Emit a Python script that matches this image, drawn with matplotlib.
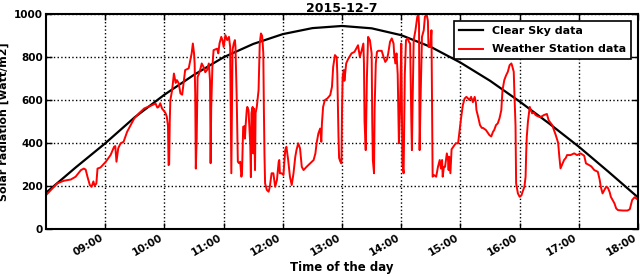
import datetime as dt
import matplotlib
matplotlib.use("Agg")
import matplotlib.pyplot as plt
import matplotlib.dates as mdates

title = "2015-12-7"
xlabel = "Time of the day"
ylabel = "Solar radiation [watt/m2]"
series_names = ["Clear Sky data", "Weather Station data"]

clear_hours = [8.0, 8.5, 9.0, 9.5, 10.0, 10.5, 11.0, 11.5, 12.0, 12.5, 13.0,
               13.5, 14.0, 14.5, 15.0, 15.5, 16.0, 16.5, 17.0, 17.5, 18.0]
clear_values = [167, 285, 398, 520, 625, 718, 800, 862, 908, 936, 946,
                935, 903, 848, 775, 690, 593, 490, 382, 265, 145]

station_hours = [
    8.00, 8.10, 8.19, 8.30, 8.42, 8.50, 8.59, 8.64, 8.67, 8.70, 8.74, 8.77, 8.80, 8.82, 8.85, 8.87, 8.92,
    9.01, 9.09, 9.15, 9.17, 9.19, 9.22, 9.26, 9.31, 9.37, 9.43, 9.49, 9.57, 9.66,
    9.79, 9.85, 9.88, 9.90, 9.93, 9.96, 9.99, 10.02, 10.04, 10.06, 10.07, 10.08, 10.09, 10.10,
    10.13, 10.16, 10.19, 10.21, 10.24, 10.27, 10.30, 10.33, 10.35, 10.41, 10.46, 10.48, 10.50,
    10.51, 10.52, 10.53, 10.545, 10.56, 10.58, 10.61, 10.63, 10.66, 10.69, 10.72, 10.75, 10.77,
    10.78, 10.79, 10.81, 10.83, 10.89, 10.91, 10.93, 10.96, 10.98, 11.00, 11.03, 11.06, 11.09,
    11.11, 11.13, 11.14, 11.15, 11.17, 11.19, 11.20, 11.22, 11.24, 11.26, 11.28, 11.30,
    11.31, 11.33, 11.35, 11.36, 11.37, 11.39, 11.40, 11.42, 11.45, 11.46, 11.47, 11.49, 11.50,
    11.51, 11.53, 11.54, 11.56, 11.59, 11.61, 11.63, 11.65, 11.66, 11.67, 11.68, 11.69, 11.70,
    11.73, 11.76, 11.78, 11.81, 11.84, 11.87, 11.90, 11.93, 11.94, 11.95, 11.98, 12.01, 12.04,
    12.06, 12.09, 12.12, 12.15, 12.18, 12.21, 12.23, 12.26, 12.29, 12.32, 12.35, 12.40, 12.46,
    12.52, 12.55, 12.57, 12.60, 12.63, 12.65, 12.66, 12.68, 12.71, 12.75, 12.80, 12.83, 12.85,
    12.88, 12.91, 12.92, 12.94, 12.95, 12.97, 12.99, 13.00, 13.01, 13.03, 13.04, 13.07, 13.10,
    13.16, 13.21, 13.24, 13.27, 13.30, 13.33, 13.36, 13.37, 13.38, 13.40, 13.42, 13.44, 13.47,
    13.50, 13.51, 13.52, 13.54, 13.55, 13.57, 13.59, 13.61, 13.67, 13.70, 13.73, 13.76, 13.78,
    13.81, 13.84, 13.87, 13.88, 13.90, 13.92, 13.94, 13.96, 13.98, 14.00, 14.02, 14.04, 14.06,
    14.08, 14.11, 14.13, 14.15, 14.17, 14.18, 14.19, 14.21, 14.24, 14.27, 14.29, 14.30, 14.31,
    14.33, 14.35, 14.38, 14.40, 14.43, 14.45, 14.46, 14.49, 14.51, 14.53, 14.55, 14.59, 14.61,
    14.62, 14.65, 14.67, 14.69, 14.70, 14.72, 14.74, 14.77, 14.79, 14.80, 14.81, 14.83, 14.85,
    14.88, 14.92, 14.96, 14.99, 15.01, 15.04, 15.07, 15.10, 15.13, 15.15, 15.18, 15.21, 15.24,
    15.26, 15.27, 15.30, 15.33, 15.36, 15.38, 15.43, 15.49, 15.52, 15.55, 15.57, 15.60, 15.63,
    15.66, 15.69, 15.71, 15.74, 15.77, 15.80, 15.83, 15.86, 15.87, 15.90, 15.91, 15.93, 15.935,
    15.94, 15.97, 16.00, 16.03, 16.05, 16.08, 16.10, 16.11, 16.12, 16.14, 16.16, 16.17, 16.19,
    16.21, 16.24, 16.27, 16.30, 16.35, 16.41, 16.46, 16.49, 16.55, 16.61, 16.65, 16.67, 16.69,
    16.72, 16.75, 16.78, 16.80, 16.86, 16.92, 16.97, 17.03, 17.09, 17.12, 17.15, 17.21, 17.26,
    17.32, 17.35, 17.37, 17.40, 17.43, 17.46, 17.49, 17.52, 17.54, 17.60, 17.63, 17.66, 17.74,
    17.82, 17.86, 17.90, 17.94, 17.97, 18.00]
station_values = [
    156, 185, 211, 223, 229, 242, 273, 280, 275, 242, 203, 195, 220, 200, 210, 280, 285,
    312, 343, 382, 385, 312, 375, 398, 405, 452, 483, 514, 538, 561,
    576, 584, 565, 567, 585, 560, 550, 538, 522, 480, 296, 300, 500, 600,
    646, 724, 680, 693, 680, 631, 625, 693, 740, 748, 818, 864, 818,
    771, 630, 280, 420, 708, 720, 748, 771, 755, 730, 740, 771, 690,
    305, 560, 755, 833, 840, 818, 864, 895, 880, 848, 903, 880, 895,
    848, 258, 560, 833, 864, 880, 848, 620, 312, 305, 312, 242,
    258, 475, 478, 420, 475, 553, 568, 553, 390, 240, 540, 568, 351,
    560, 273, 540, 568, 646, 864, 911, 900, 864, 818, 553, 343, 211,
    180, 172, 195, 258, 258, 195, 226, 312, 320, 258, 258, 250, 366,
    382, 320, 242, 203, 258, 335, 366, 398, 375, 288, 273, 288, 304,
    320, 351, 398, 444, 467, 405, 490, 568, 600, 607, 623, 662, 755,
    810, 800, 720, 428, 330, 313, 304, 560, 708, 740, 690, 771, 790,
    818, 825, 841, 856, 802, 830, 864, 771, 500, 366, 708, 895, 880,
    818, 500, 320, 258, 560, 771, 825, 830, 830, 802, 778, 790, 818,
    872, 888, 864, 818, 771, 818, 720, 398, 560, 864, 300, 258, 720,
    880, 888, 872, 864, 500, 366, 560, 880, 926, 988, 1005, 950, 366,
    650, 895, 926, 990, 998, 970, 848, 848, 926, 242, 250, 242, 273,
    288, 320, 280, 320, 242, 288, 288, 351, 320, 273, 335, 258, 370,
    382, 398, 398, 467, 515, 576, 607, 615, 607, 600, 615, 590, 615,
    590, 553, 520, 483, 470, 470, 460, 436, 430, 452, 460, 483, 491,
    515, 553, 646, 693, 715, 732, 763, 771, 763, 732, 640, 480, 320,
    211, 164, 148, 155, 172, 195, 242, 350, 428, 500, 545, 568, 553,
    538, 541, 530, 525, 520, 530, 535, 505, 483, 436, 400, 335, 281,
    300, 320, 330, 343, 343, 351, 343, 351, 340, 304, 300, 290, 273,
    265, 230, 195, 164, 180, 195, 190, 170, 148, 118, 94, 86, 84,
    84, 90, 133, 146, 140, 135]

y_ticks = [0, 200, 400, 600, 800, 1000]

base = dt.datetime(2015, 12, 7)
def to_time(hours):
    return [base + dt.timedelta(hours=h) for h in hours]

plt.rcParams['font.family'] = ['DejaVu Sans']
plt.rcParams['font.weight'] = 'bold'

fig = plt.figure(figsize=(6.4, 2.77), dpi=100)
ax = fig.add_axes([0.0719, 0.175, 0.9251, 0.773])

ax.plot(to_time(clear_hours), clear_values, color='black', lw=1.6, label=series_names[0])
ax.plot(to_time(station_hours), station_values, color='red', lw=1.4, label=series_names[1])

ax.set_xlim(base + dt.timedelta(hours=8), base + dt.timedelta(hours=18))
ax.set_ylim(0, 1000)
ax.set_yticks(y_ticks)
ax.xaxis.set_major_locator(mdates.HourLocator(byhour=range(9, 19)))
ax.xaxis.set_major_formatter(mdates.DateFormatter('%H:%M'))
ax.tick_params(direction='in', top=True, right=True, length=4, width=1, labelsize=7.5, pad=3)
ax.tick_params(axis='y', pad=2)
for lab in ax.get_xticklabels():
    lab.set_rotation(30)
    lab.set_ha('right')
    lab.set_fontweight('bold')
for lab in ax.get_yticklabels():
    lab.set_fontweight('bold')
ax.grid(True, color='black', linestyle=':', linewidth=1)
for sp in ax.spines.values():
    sp.set_linewidth(1.5)

ax.set_title(title, fontsize=9, fontweight='bold', pad=2)
ax.set_xlabel(xlabel, fontsize=8.5, fontweight='bold', labelpad=2)
ax.set_ylabel(ylabel, fontsize=8, fontweight='bold')
ax.yaxis.set_label_coords(-0.062, 0.5)
leg = ax.legend(loc='upper right', fontsize=8, fancybox=False, framealpha=1,
                edgecolor='black', borderaxespad=0.6, handlelength=2.2,
                labelspacing=0.75, borderpad=0.45)
leg.get_frame().set_linewidth(1.2)

fig.savefig('out.png', dpi=100)
